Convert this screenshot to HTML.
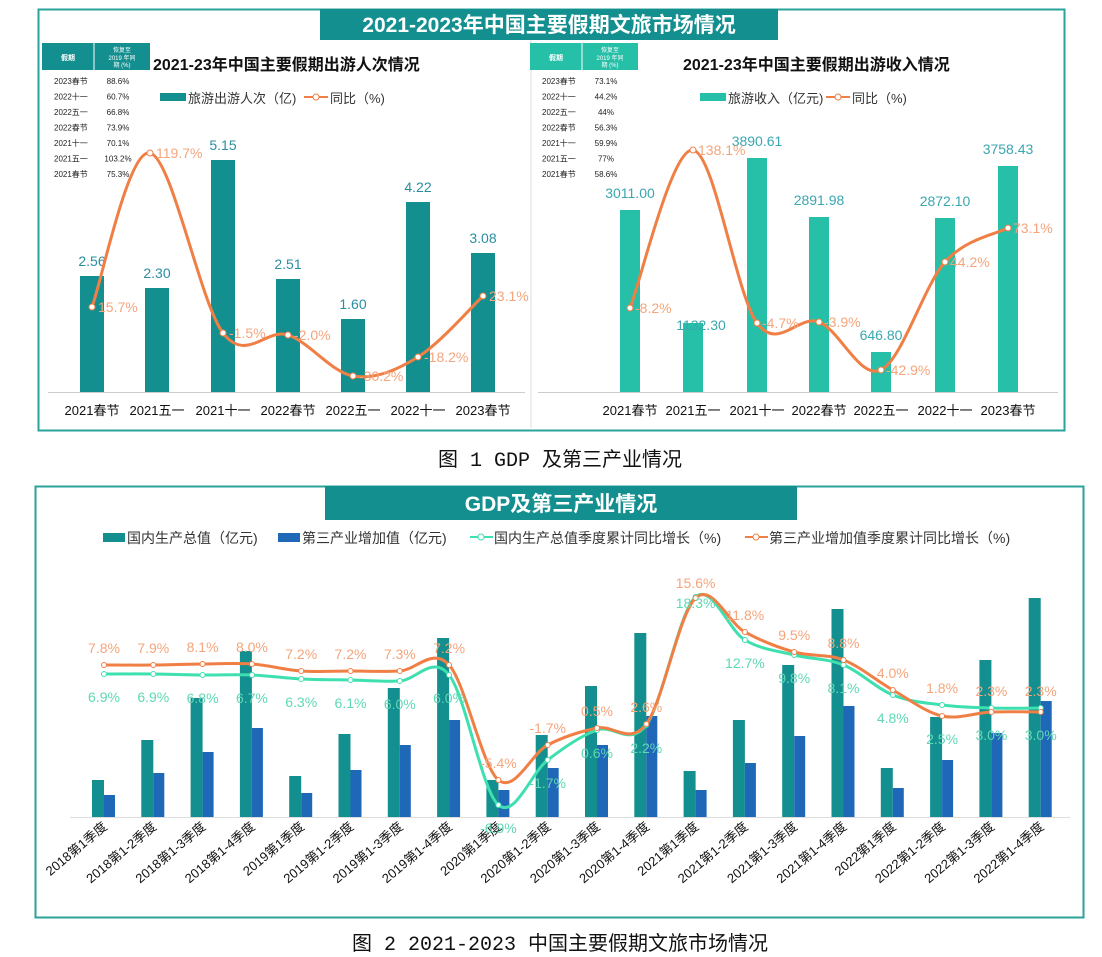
<!DOCTYPE html>
<html><head><meta charset="utf-8">
<style>
html,body{margin:0;padding:0;background:#fff;}
svg{display:block;font-family:"Liberation Sans","Noto Sans CJK SC",sans-serif;}
</style></head>
<body>
<svg id="s" width="1102" height="957" viewBox="0 0 1102 957" xmlns="http://www.w3.org/2000/svg">
<rect x="0" y="0" width="1102" height="957" fill="#fff"/>
<rect x="38.5" y="9.5" width="1026" height="421" fill="#fff" stroke="#2aa39a" stroke-width="2"/>
<rect x="320" y="9" width="458" height="31" fill="#138f8f"/>
<text x="549" y="32" font-size="21" font-weight="bold" fill="#fff" text-anchor="middle">2021-2023年中国主要假期文旅市场情况</text>
<line x1="531" y1="40" x2="531" y2="428" stroke="#ddd"/>
<text x="560" y="466" font-size="20" fill="#111" text-anchor="middle" font-family="'Liberation Mono','Noto Sans CJK SC',monospace">图 1 GDP 及第三产业情况</text>
<rect x="35.5" y="486.5" width="1048" height="431" fill="#fff" stroke="#2aa39a" stroke-width="2"/>
<rect x="325" y="486" width="472" height="34" fill="#138f8f"/>
<text x="561" y="511" font-size="21" font-weight="bold" fill="#fff" text-anchor="middle">GDP及第三产业情况</text>
<text x="560" y="950" font-size="20" fill="#111" text-anchor="middle" font-family="'Liberation Mono','Noto Sans CJK SC',monospace">图 2 2021-2023 中国主要假期文旅市场情况</text>
<g id="g"></g>
</svg>
<script>
var g=document.getElementById('g');var h='';
function smooth(p){var d='M'+p[0][0]+','+p[0][1];for(var i=0;i<p.length-1;i++){var p0=p[i-1]||p[i],p1=p[i],p2=p[i+1],p3=p[i+2]||p2;var t=6;d+=' C'+(p1[0]+(p2[0]-p0[0])/t)+','+(p1[1]+(p2[1]-p0[1])/t)+' '+(p2[0]-(p3[0]-p1[0])/t)+','+(p2[1]-(p3[1]-p1[1])/t)+' '+p2[0]+','+p2[1];}return d;}
function T(x,y,s,sz,c,a,ex){h+='<text x="'+x+'" y="'+y+'" font-size="'+sz+'" fill="'+c+'" text-anchor="'+(a||'start')+'" '+(ex||'')+'>'+s+'</text>';}
function R(x,y,w,hh,c){h+='<rect x="'+x+'" y="'+y+'" width="'+w+'" height="'+hh+'" fill="'+c+'"/>';}
var cats=['2021春节','2021五一','2021十一','2022春节','2022五一','2022十一','2023春节'];
function table(x,col,rows){R(x,43,108,27,col);h+='<line x1="'+(x+52)+'" y1="43" x2="'+(x+52)+'" y2="70" stroke="#fff"/>';
T(x+26,60,'假期',7,'#fff','middle','font-weight="bold"');T(x+80,52,'恢复至',6,'#fff','middle');T(x+80,60,'2019 年同',6,'#fff','middle');T(x+80,67,'期 (%)',6,'#fff','middle');
var lab=['2023春节','2022十一','2022五一','2022春节','2021十一','2021五一','2021春节'];for(var i=0;i<7;i++){T(x+12,84+i*15.5,lab[i],8,'#222','start');T(x+76,84+i*15.5,rows[i],8,'#222','middle');}}
table(42,'#138f8f',['88.6%','60.7%','66.8%','73.9%','70.1%','103.2%','75.3%']);
table(530,'#26bfa8',['73.1%','44.2%','44%','56.3%','59.9%','77%','58.6%']);
T(153,70,'2021-23年中国主要假期出游人次情况',16,'#111','start','font-weight="bold"');
R(160,93,26,8,'#138f8f');T(188,103,'旅游出游人次（亿)',13,'#333');
h+='<line x1="304" y1="97" x2="328" y2="97" stroke="#f07f45" stroke-width="2"/><circle cx="316" cy="97" r="3" fill="#fff" stroke="#f07f45"/>';T(330,103,'同比（%)',13,'#333');
var lx=[92,157,223,288,353,418,483],lt=[276,288,160,279,319,202,253],lv=['2.56','2.30','5.15','2.51','1.60','4.22','3.08'];
h+='<line x1="48" y1="392.5" x2="525" y2="392.5" stroke="#ccc"/>';
for(var i=0;i<7;i++){R(lx[i]-12,lt[i],24,392-lt[i],'#138f8f');T(lx[i],lt[i]-10,lv[i],14,'#2a8ea0','middle');T(lx[i],415,cats[i],13,'#111','middle');}
var lp=[[92,307],[150,153],[223,333],[288,335],[353,376],[418,357],[483,296]];
h+='<path d="'+smooth(lp)+'" fill="none" stroke="#f07f45" stroke-width="3"/>';
var ll=['15.7%','119.7%','-1.5%','-2.0%','-30.2%','-18.2%','23.1%'];
for(var i=0;i<7;i++){h+='<circle cx="'+lp[i][0]+'" cy="'+lp[i][1]+'" r="3" fill="#fff" stroke="#f07f45"/>';T(lp[i][0]+6,lp[i][1]+5,ll[i],14,'#f4a57c','start');}
T(683,70,'2021-23年中国主要假期出游收入情况',16,'#111','start','font-weight="bold"');
R(700,93,26,8,'#26bfa8');T(728,103,'旅游收入（亿元)',13,'#333');
h+='<line x1="826" y1="97" x2="850" y2="97" stroke="#f07f45" stroke-width="2"/><circle cx="838" cy="97" r="3" fill="#fff" stroke="#f07f45"/>';T(852,103,'同比（%)',13,'#333');
var rx=[630,693,757,819,881,945,1008],rt=[210,323,158,217,352,218,166],rv=['3011.00','1132.30','3890.61','2891.98','646.80','2872.10','3758.43'];
h+='<line x1="538" y1="392.5" x2="1058" y2="392.5" stroke="#ccc"/>';
for(var i=0;i<7;i++){R(rx[i]-10,rt[i],20,392-rt[i],'#26bfa8');T(rx[i]+(i==1?8:0),rt[i]-(i==1?-7:12),rv[i],14,'#3aa6b0','middle');T(rx[i],415,cats[i],13,'#111','middle');}
var rp=[[630,308],[693,150],[757,323],[819,322],[881,370],[945,262],[1008,228]];
h+='<path d="'+smooth(rp)+'" fill="none" stroke="#f07f45" stroke-width="3"/>';
var rl=['-8.2%','138.1%','-4.7%','-3.9%','-42.9%','44.2%','73.1%'];
for(var i=0;i<7;i++){h+='<circle cx="'+rp[i][0]+'" cy="'+rp[i][1]+'" r="3" fill="#fff" stroke="#f07f45"/>';T(rp[i][0]+5,rp[i][1]+5,rl[i],14,'#f4a57c','start');}
R(103,533,22,9,'#138f8f');T(127,543,'国内生产总值（亿元)',14,'#333');
R(278,533,22,9,'#1f68b8');T(302,543,'第三产业增加值（亿元)',14,'#333');
h+='<line x1="470" y1="537" x2="493" y2="537" stroke="#3fe0b0" stroke-width="2"/><circle cx="481" cy="537" r="3" fill="#fff" stroke="#3fe0b0"/>';T(494,543,'国内生产总值季度累计同比增长（%)',14,'#333');
h+='<line x1="745" y1="537" x2="768" y2="537" stroke="#f07f45" stroke-width="2"/><circle cx="756" cy="537" r="3" fill="#fff" stroke="#f07f45"/>';T(769,543,'第三产业增加值季度累计同比增长（%)',14,'#333');
var qt=[780,740,698,651,776,734,688,638,780,735,686,633,771,720,665,609,768,717,660,598];
var qb=[795,773,752,728,793,770,745,720,790,768,745,716,790,763,736,706,788,760,733,701];
var oy=[665,665,664,664,671,671,671,665,780,745,728,724,598,632,652,660,690,716,712,712];
var gy=[674,674,675,675,679,680,681,675,805,760,730,725,597,640,655,665,695,705,708,708];
var ol=['7.8%','7.9%','8.1%','8.0%','7.2%','7.2%','7.3%','7.2%','-5.4%','-1.7%','0.5%','2.6%','15.6%','11.8%','9.5%','8.8%','4.0%','1.8%','2.3%','2.3%'];
var gl=['6.9%','6.9%','6.8%','6.7%','6.3%','6.1%','6.0%','6.0%','-6.9%','-1.7%','0.6%','2.2%','18.3%','12.7%','9.8%','8.1%','4.8%','2.5%','3.0%','3.0%'];
var qn=['2018第1季度','2018第1-2季度','2018第1-3季度','2018第1-4季度','2019第1季度','2019第1-2季度','2019第1-3季度','2019第1-4季度','2020第1季度','2020第1-2季度','2020第1-3季度','2020第1-4季度','2021第1季度','2021第1-2季度','2021第1-3季度','2021第1-4季度','2022第1季度','2022第1-2季度','2022第1-3季度','2022第1-4季度'];
h+='<line x1="70" y1="817.5" x2="1070" y2="817.5" stroke="#ddd"/>';
var op=[],gp=[];
for(var i=0;i<20;i++){var x=98+49.3*i;R(x-6,qt[i],12,817-qt[i],'#138f8f');R(x+6,qb[i],11,817-qb[i],'#1f68b8');op.push([x+6,oy[i]]);gp.push([x+6,gy[i]]);
T(x+10,828,qn[i],13,'#111','end','transform="rotate(-40 '+(x+10)+' 828)"');}
h+='<path d="'+smooth(gp)+'" fill="none" stroke="#3fe0b0" stroke-width="3"/>';
h+='<path d="'+smooth(op)+'" fill="none" stroke="#f07f45" stroke-width="3"/>';
for(var i=0;i<20;i++){h+='<circle cx="'+gp[i][0]+'" cy="'+gp[i][1]+'" r="2.5" fill="#fff" stroke="#3fe0b0"/><circle cx="'+op[i][0]+'" cy="'+op[i][1]+'" r="2.5" fill="#fff" stroke="#f07f45"/>';
var oyL=Math.min(op[i][1],gp[i][1])-12, gyL=Math.max(op[i][1],gp[i][1])+28;
if(i==12){oyL=588;gyL=608;}
T(op[i][0],oyL,ol[i],14,'#f4a57c','middle');
T(gp[i][0],gyL,gl[i],14,'#5ed8b5','middle');}
g.innerHTML=h;
</script>
</body></html>
